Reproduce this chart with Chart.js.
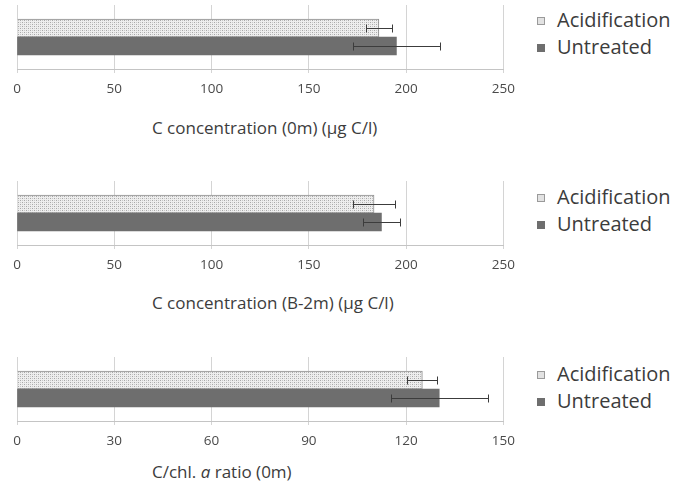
<!DOCTYPE html>
<html>
<head>
<meta charset="utf-8">
<script src="https://cdn.jsdelivr.net/npm/chart.js@4.4.1/dist/chart.umd.min.js"></script>
<style>
  html, body { margin: 0; padding: 0; background: #fff; }
  body { width: 677px; height: 489px; position: relative; overflow: hidden;
         font-family: "Open Sans", sans-serif; color: #3c3c3c; }
  .panel { position: absolute; left: 0; width: 523px; height: 105px; }
  .axis-title { position: absolute; left: 152px; font-size: 17px; white-space: nowrap; line-height: 1; }
  .legend { position: absolute; left: 537px; font-size: 20px; line-height: 1; }
  .legend div { position: relative; height: 27px; white-space: nowrap; padding-left: 20px; }
  .legend .mk { position: absolute; left: 0; top: 7px; width: 8px; height: 8px; box-sizing: border-box; }
  .mk.acid { background: #e2e2e2; border: 1px solid #9a9a9a; }
  .mk.untr { background: #6e6e6e; }
</style>
</head>
<body>
<div class="panel" style="top:0px"><canvas id="c1" width="523" height="105"></canvas></div>
<div class="panel" style="top:176px"><canvas id="c2" width="523" height="105"></canvas></div>
<div class="panel" style="top:352px"><canvas id="c3" width="523" height="105"></canvas></div>

<div class="axis-title" style="top:119px">C concentration (0m) (µg C/l)</div>
<div class="axis-title" style="top:294px">C concentration (B-2m) (µg C/l)</div>
<div class="axis-title" style="top:463px">C/chl. <i>a</i> ratio (0m)</div>

<div class="legend" style="top:10px"><div><span class="mk acid"></span>Acidification</div><div><span class="mk untr"></span>Untreated</div></div>
<div class="legend" style="top:187px"><div><span class="mk acid"></span>Acidification</div><div><span class="mk untr"></span>Untreated</div></div>
<div class="legend" style="top:364px"><div><span class="mk acid"></span>Acidification</div><div><span class="mk untr"></span>Untreated</div></div>

<script>
var seriesNames = ["Acidification", "Untreated"];

var c0mMeans = [186, 195];
var c0mErrors = [6.5, 22.5];

var cB2mMeans = [183.5, 187.3];
var cB2mErrors = [11, 9.6];

var ratioMeans = [125, 130.2];
var ratioErrors = [4.6, 15];

var concTicks = [0, 50, 100, 150, 200, 250];
var ratioTicks = [0, 30, 60, 90, 120, 150];

function dotPattern() {
  var pc = document.createElement("canvas");
  pc.width = 4;
  pc.height = 4;
  var g = pc.getContext("2d");
  g.fillStyle = "#eeeeee";
  g.fillRect(0, 0, 4, 4);
  g.fillStyle = "#a8a8a8";
  g.fillRect(0, 0, 1, 1);
  g.fillRect(2, 2, 1, 1);
  g.fillStyle = "#c8c8c8";
  g.fillRect(2, 0, 1, 1);
  g.fillRect(0, 2, 1, 1);
  return g.createPattern(pc, "repeat");
}

/** error bars drawn from the x scale */
var errorBars = {
  id: "errorBars",
  afterDatasetsDraw: function (chart) {
    var ctx = chart.ctx;
    var xs = chart.scales.x;
    ctx.save();
    ctx.strokeStyle = "#3c3c3c";
    ctx.lineWidth = 1;
    chart.data.datasets.forEach(function (ds, i) {
      var meta = chart.getDatasetMeta(i);
      meta.data.forEach(function (bar, j) {
        var v = ds.data[j];
        var e = ds.errors[j];
        var x1 = Math.round(xs.getPixelForValue(v - e)) + 0.5;
        var x2 = Math.round(xs.getPixelForValue(v + e)) + 0.5;
        var y = Math.round(bar.y) + 0.5;
        ctx.beginPath();
        ctx.moveTo(x1, y);
        ctx.lineTo(x2, y);
        ctx.moveTo(x1, y - 4);
        ctx.lineTo(x1, y + 4);
        ctx.moveTo(x2, y - 4);
        ctx.lineTo(x2, y + 4);
        ctx.stroke();
      });
    });
    ctx.restore();
  }
};

function makeChart(id, means, errors, ticks) {
  var ctx = document.getElementById(id).getContext("2d");
  var step = ticks[1] - ticks[0];
  return new Chart(ctx, {
    type: "bar",
    data: {
      labels: [""],
      datasets: [
        {
          label: seriesNames[0],
          data: [means[0]],
          errors: [errors[0]],
          backgroundColor: dotPattern(),
          borderColor: "#8e8e8e",
          borderWidth: 1,
          barThickness: 18
        },
        {
          label: seriesNames[1],
          data: [means[1]],
          errors: [errors[1]],
          backgroundColor: "#6e6e6e",
          borderWidth: 0,
          barThickness: 18
        }
      ]
    },
    options: {
      indexAxis: "y",
      responsive: false,
      animation: false,
      layout: { padding: { left: 17, right: 12, top: 5, bottom: 0 } },
      scales: {
        y: { display: false },
        x: {
          min: ticks[0],
          max: ticks[ticks.length - 1],
          afterFit: function (s) { s.height = 36; },
          ticks: {
            stepSize: step,
            padding: 8,
            color: "#4a4a4a",
            font: { family: '"Open Sans", sans-serif', size: 13.5 }
          },
          grid: { color: "#d4d4d4", tickLength: 4 },
          border: { color: "#c4c4c4" }
        }
      },
      plugins: {
        legend: { display: false },
        tooltip: { enabled: false }
      }
    },
    plugins: [errorBars]
  });
}

makeChart("c1", c0mMeans, c0mErrors, concTicks);
makeChart("c2", cB2mMeans, cB2mErrors, concTicks);
makeChart("c3", ratioMeans, ratioErrors, ratioTicks);
</script>
</body>
</html>
